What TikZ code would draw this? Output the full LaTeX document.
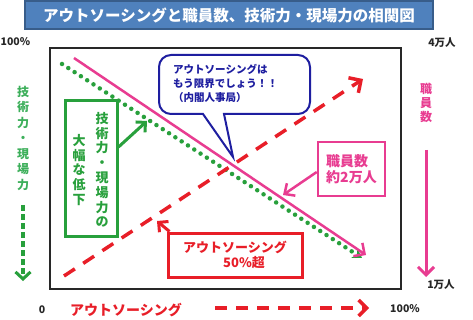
\documentclass[tikz,border=0pt]{standalone}
\usepackage{fontspec}
\setmainfont{Noto Sans CJK JP}
\usetikzlibrary{arrows.meta}
\definecolor{titleblue}{RGB}{79,129,189}
\definecolor{titleborder}{RGB}{56,93,138}
\definecolor{lgreen}{RGB}{40,160,60}
\definecolor{tgreen}{RGB}{60,175,90}
\definecolor{mypink}{RGB}{232,60,145}
\definecolor{myred}{RGB}{232,30,40}
\definecolor{navy}{RGB}{30,30,160}
\definecolor{framegray}{RGB}{40,40,40}
\tikzset{
  lbl/.style={inner sep=0pt, font=\fontsize{10.5}{12}\selectfont\bfseries, text=black!85},
  vtext/.style={inner sep=0pt, align=center},
}
\begin{document}
\begin{tikzpicture}[x=1pt,y=-1pt]
\useasboundingbox (0,0) rectangle (473,320);
\fill[white] (0,0) rectangle (473,320);

% title
\node[fill=titleblue, draw=titleborder, line width=1.5pt, minimum width=408pt, minimum height=28pt, inner sep=0pt,
  text=white, font=\fontsize{15.5}{18}\selectfont\bfseries] (title) at (229,15) {アウトソーシングと職員数、技術力・現場力の相関図};

% axis labels
\node[lbl, anchor=west] (top100) at (0.5,42) {100\%};
\node[lbl] (top4) at (442,43) {4万人};
\node[lbl] (bot1) at (441,285) {1万人};
\node[lbl] (zero) at (42,310) {0};
\node[lbl] (bot100) at (405,309) {100\%};
\node[inner sep=0pt, anchor=west, text=myred, font=\fontsize{14}{16}\selectfont\bfseries] (outx) at (70,310) {アウトソーシング};

% frame
\draw[line width=2pt, framegray] (50,48) rectangle (401,289);

% left vertical label and arrow
\node[vtext, text=tgreen, font=\fontsize{12}{15.5}\selectfont\bfseries] (lefttxt) at (23,138) {技\\術\\力\\・\\現\\場\\力};
\coordinate (ga1) at (23,205);
\coordinate (ga2) at (23,281);
\draw[lgreen, line width=3.5pt, dash pattern=on 6pt off 3pt, -{Straight Barb[length=7pt,width=15pt,line width=3pt]}] (ga1) -- (ga2);

% right vertical label and arrow
\node[vtext, text=mypink, font=\fontsize{12}{14}\selectfont\bfseries] (righttxt) at (426,103) {職\\員\\数};
\coordinate (pa1) at (426,150);
\coordinate (pa2) at (426,277);
\draw[mypink, line width=3pt, -{Straight Barb[length=8pt,width=16pt,line width=3pt]}] (pa1) -- (pa2);

% bottom red dashed arrow
\coordinate (ra1) at (215,308);
\coordinate (ra2) at (369,308);
\draw[myred, line width=4pt, dash pattern=on 12pt off 9pt, -{Straight Barb[length=8pt,width=16pt,line width=3.5pt]}] (ra1) -- (ra2);

% chart lines
\coordinate (gd1) at (62,64);
\coordinate (gd2) at (362,258);
\draw[lgreen, line width=4.5pt, dash pattern=on 0pt off 7.5pt, line cap=round, -{Stealth[length=9pt,width=11pt,line cap=butt]}] (gd1) -- (gd2);

\coordinate (pk1) at (74,58);
\coordinate (pk2) at (366,255);
\draw[mypink, line width=2.5pt, -{Straight Barb[length=8pt,width=16pt,line width=2.5pt]}] (pk1) -- (pk2);

\coordinate (rd1) at (64,276);
\coordinate (rd2) at (363,79);
\draw[myred, line width=3.5pt, dash pattern=on 13pt off 10pt, -{Straight Barb[length=9pt,width=18pt,line width=3.5pt]}] (rd1) -- (rd2);

% callout bubble
\coordinate (tip) at (233,157);
\draw[navy, line width=2pt, fill=white, line join=miter]
  (tip) -- (203,114) [rounded corners=12pt] -- (159,114) -- (159,55) -- (310,55) -- (310,114) [sharp corners] -- (224,114) -- cycle;
\node[inner sep=0pt, anchor=north west, align=left, text=navy, font=\fontsize{10.5}{14}\selectfont\bfseries] (bubbletxt) at (173,64)
  {アウトソーシングは\\もう限界でしょう！！\\（内閣人事局）};

% green box
\node[draw=lgreen, line width=3pt, fill=white, minimum width=52pt, minimum height=135pt, inner sep=0pt] (gbox) at (91,168.5) {};
\node[vtext, text=lgreen, font=\fontsize{13}{14.8}\selectfont\bfseries] (gcol1) at (102,170) {技\\術\\力\\・\\現\\場\\力\\の};
\node[vtext, text=lgreen, font=\fontsize{13}{14.8}\selectfont\bfseries] (gcol2) at (79,170) {大\\幅\\な\\低\\下};
\coordinate (garr) at (147,121);
\draw[lgreen, line width=3pt, -{Straight Barb[length=7pt,width=14pt,line width=3pt]}] (gbox.east |- 0,147) -- (garr);

% pink box
\node[draw=mypink, line width=2.5pt, fill=white, minimum width=67pt, minimum height=54pt, inner sep=0pt,
  align=left, text=mypink, font=\fontsize{14}{16}\selectfont\bfseries] (pbox) at (351.5,169) {職員数\\約2万人};
\coordinate (parr) at (283,195);
\draw[mypink, line width=2.5pt, -{Straight Barb[length=8pt,width=15pt,line width=2.5pt]}] (pbox.west |- 0,172) -- (parr);

% red box
\node[draw=myred, line width=3pt, fill=white, minimum width=134pt, minimum height=44pt, inner sep=0pt,
  align=center, text=myred, font=\fontsize{13}{15}\selectfont\bfseries] (rbox) at (235,255) {アウトソーシング\\\hspace*{18pt}50\%超};
\coordinate (rarr) at (157,221);
\draw[myred, line width=3pt, -{Straight Barb[length=7pt,width=14pt,line width=3pt]}] (rbox.north west) ++(3,0) coordinate (rstart) (rstart) -- (rarr);
\end{tikzpicture}
\end{document}
